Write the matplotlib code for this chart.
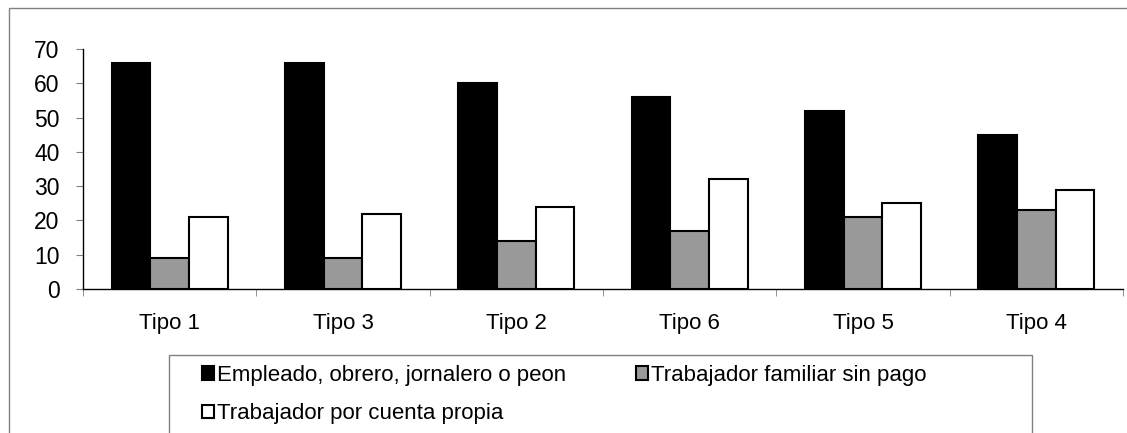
import matplotlib.pyplot as plt
import matplotlib.patches as mpatches
import numpy as np

plt.rcParams['font.family'] = ['Liberation Sans', 'DejaVu Sans']

tipos = ['Tipo 1', 'Tipo 3', 'Tipo 2', 'Tipo 6', 'Tipo 5', 'Tipo 4']
series = ['Empleado, obrero, jornalero o peon',
          'Trabajador familiar sin pago',
          'Trabajador por cuenta propia']
empleado = [66, 66, 60, 56, 52, 45]
familiar = [9, 9, 14, 17, 21, 23]
propia = [21, 22, 24, 32, 25, 29]
colores = ['black', '#999999', 'white']

W, H = 1127, 433
fig = plt.figure(figsize=(W / 100, H / 100), dpi=100)
ax = fig.add_axes([83 / W, 1 - 289 / H, 1040 / W, 240 / H])

# outer chart border (runs off the right and bottom edges)
fig.patches.append(mpatches.Rectangle((9 / W, -0.1), 1.2, 1 - 8 / H + 0.1,
                                      transform=fig.transFigure, fill=False,
                                      edgecolor='#808080', lw=1.0))

x = np.arange(len(tipos)) + 0.5
w = 0.2237
for k, vals in enumerate([empleado, familiar, propia]):
    ax.bar(x + (k - 1) * w, vals, width=w, color=colores[k],
           edgecolor='black', linewidth=1.5, label=series[k])

ax.set_xlim(0, len(tipos))
ax.set_ylim(0, 70)
ax.set_yticks(range(0, 71, 10))
ax.tick_params(axis='y', labelsize=16.5, length=5, color='#808080', pad=12)
ax.set_xticks(x)
ax.set_xticklabels(tipos)
ax.tick_params(axis='x', which='major', length=0, labelsize=16, pad=17)
ax.set_xticks(np.arange(len(tipos) + 1), minor=True)
ax.tick_params(axis='x', which='minor', length=5, color='#808080', direction='out')
for s in ['top', 'right']:
    ax.spines[s].set_visible(False)
for s in ['left', 'bottom']:
    ax.spines[s].set_linewidth(1.0)
ax.set_facecolor('none')

# legend box (open at the bottom)
fig.patches.append(mpatches.Rectangle((169 / W, -0.1), (1032 - 169) / W,
                                      1 - 355 / H + 0.1,
                                      transform=fig.transFigure, fill=False,
                                      edgecolor='#808080', lw=1.0))
handles, labels = ax.get_legend_handles_labels()
order = [0, 2, 1]
fig.legend([handles[i] for i in order], [labels[i] for i in order],
           ncol=2, loc='upper left', bbox_to_anchor=(202 / W, 1 - 365 / H),
           frameon=False, fontsize=16, handlelength=0.55, handleheight=0.55,
           handletextpad=0.12, columnspacing=3.15, labelspacing=0.78,
           borderpad=0, borderaxespad=0)

fig.savefig('out.png', dpi=100)
